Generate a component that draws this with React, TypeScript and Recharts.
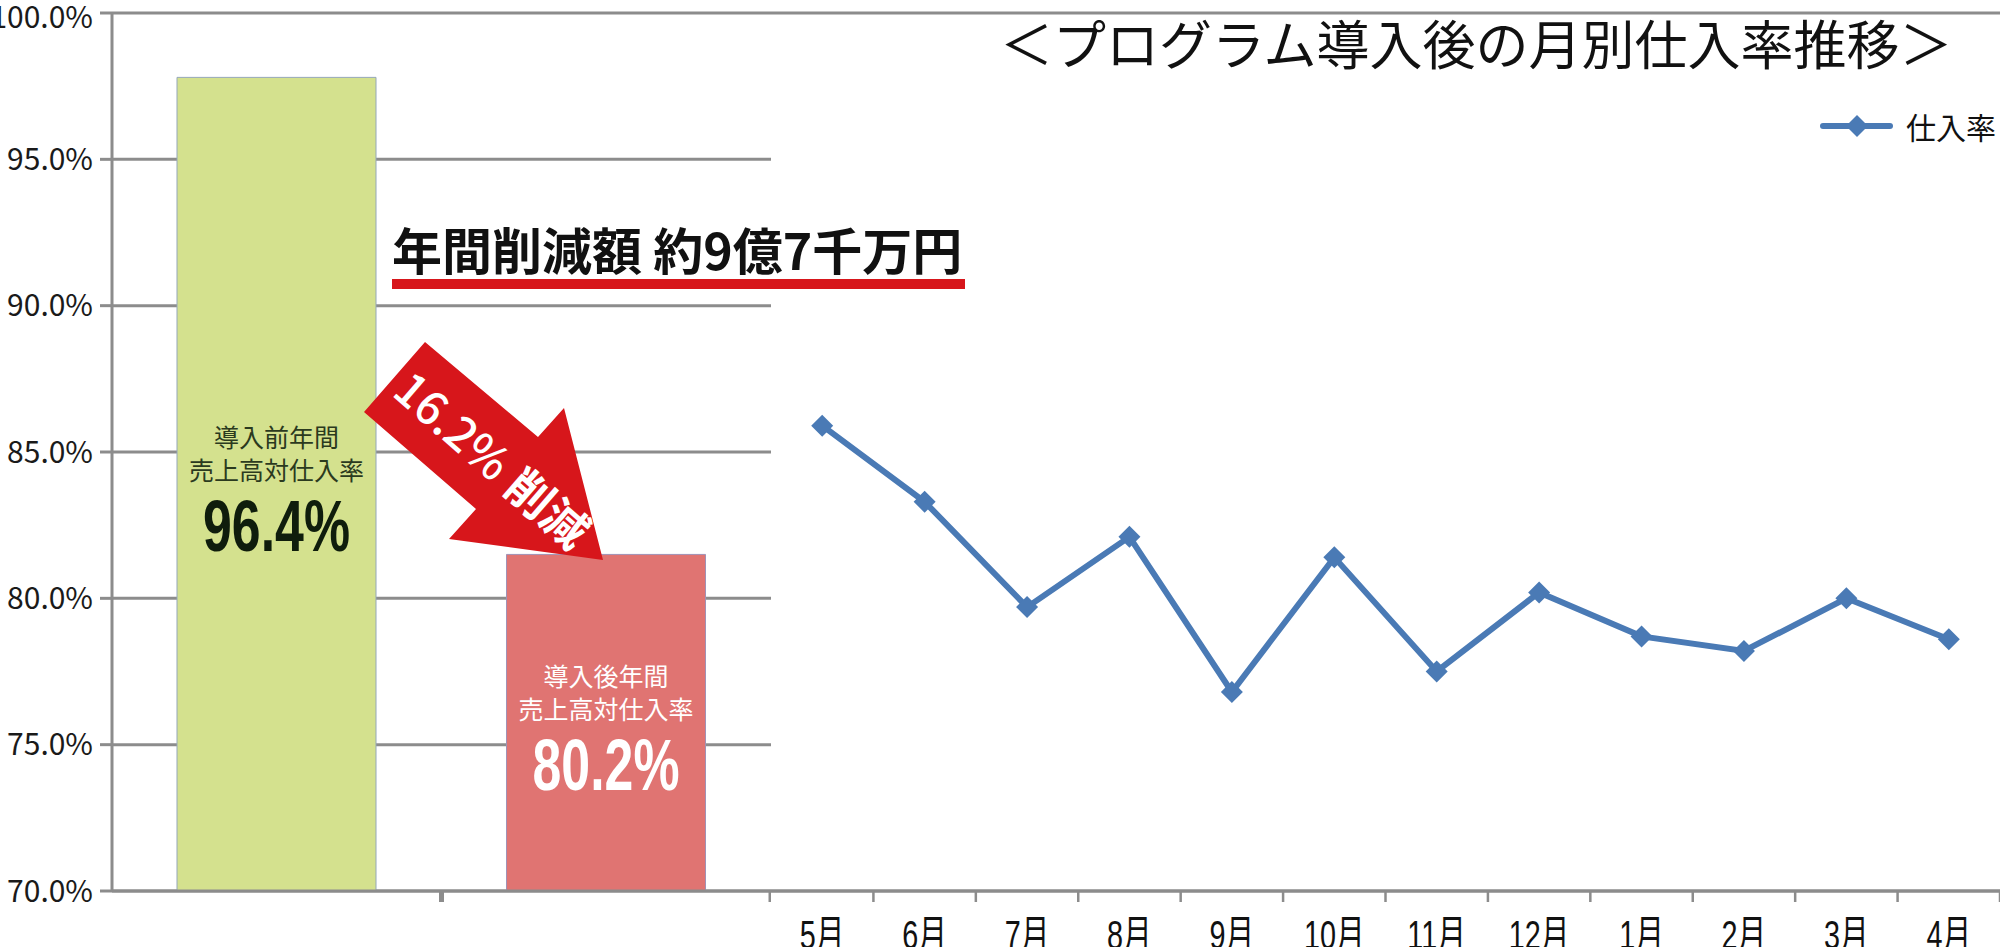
import { BarChart, Bar, Cell, LabelList, LineChart, Line, XAxis, YAxis, CartesianGrid } from 'recharts'

// annual purchase rate before / after the program
const periods = ['導入前', '導入後']
const periodValues = [97.8, 81.5]
const periodCaptions = ['導入前年間', '導入後年間']
const periodRates = ['96.4%', '80.2%']

// monthly purchase rate after the program
const months = ['5月', '6月', '7月', '8月', '9月', '10月', '11月', '12月', '1月', '2月', '3月', '4月']
const monthlyRates = [85.9, 83.3, 79.7, 82.1, 76.8, 81.4, 77.5, 80.2, 78.7, 78.2, 80.0, 78.6]

const yTicks = [70, 75, 80, 85, 90, 95, 100]

const title = '＜プログラム導入後の月別仕入率推移＞'
const headline = '年間削減額 約9億7千万円'
const arrowText = ['16.2%', '削減']
const seriesName = '仕入率'
const captionSub = '売上高対仕入率'

const FONT = "'Noto Sans CJK JP', 'Noto Sans', sans-serif"
const LATIN = "'Liberation Sans', 'Noto Sans CJK JP', sans-serif"

const W = 2000
const H = 947
const TOP = 13
const AXIS_H = 56
const Y_W = 112
const SPLIT = 771
const AXIS_Y = H - AXIS_H
const GRID = '#8c8c8c'
const LINE_BLUE = '#4a7ab5'
const RED = '#d7161b'

const barFills = ['#d4e18e', '#e07472']
const barStrokes = ['#94a7b9', '#a092b6']
const captionColors = ['#2b3a1e', '#ffffff']
const rateColors = ['#0f1d0c', '#ffffff']

const barRows = periods.map((name, i) => ({ name, value: periodValues[i] }))
const monthRows = months.map((month, i) => ({ month, rate: monthlyRates[i] }))

const bandA = (SPLIT - Y_W) / periods.length
const bandB = (W - SPLIT) / months.length

function BarCaption(props: any) {
  const { x, y, width, height, index } = props
  const cx = x + width / 2
  const mid = y + height / 2
  const color = captionColors[index]
  return (
    <g>
      <text x={cx} y={mid - 48} textAnchor="middle" dominantBaseline="central" fontSize={25} fill={color} fontFamily={FONT}>
        {periodCaptions[index]}
      </text>
      <text x={cx} y={mid - 15} textAnchor="middle" dominantBaseline="central" fontSize={25} fill={color} fontFamily={FONT}>
        {captionSub}
      </text>
      <text
        transform={`translate(${cx},${mid + 42}) scale(0.72,1)`}
        textAnchor="middle"
        dominantBaseline="central"
        fontSize={72}
        fontWeight="bold"
        fill={rateColors[index]}
        fontFamily={LATIN}
      >
        {periodRates[index]}
      </text>
    </g>
  )
}

// Excel style: tick marks on category boundaries
function PeriodTick(props: any) {
  const { x } = props
  const bx = x + bandA / 2
  return <line x1={bx} x2={bx} y1={AXIS_Y} y2={AXIS_Y + 11} stroke={GRID} strokeWidth={5} />
}

function MonthTick(props: any) {
  const { x, payload } = props
  const bx = x + bandB / 2
  return (
    <g>
      <line x1={bx} x2={bx} y1={AXIS_Y} y2={AXIS_Y + 11} stroke={GRID} strokeWidth={2.5} />
      <text transform={`translate(${x},${H + 2}) scale(0.72,1)`} textAnchor="middle" fontSize={40} fill="#111" fontFamily={LATIN}>
        {payload.value}
      </text>
    </g>
  )
}

function Diamond(props: any) {
  const { cx, cy, index } = props
  const r = 11
  return <path key={`dot-${index}`} d={`M${cx},${cy - r}L${cx + r},${cy}L${cx},${cy + r}L${cx - r},${cy}Z`} fill={LINE_BLUE} />
}

export default function App() {
  return (
    <div style={{ position: 'relative', width: W, height: H, overflow: 'hidden', background: '#fff' }}>
      <style>{'body{margin:0}'}</style>

      <div style={{ position: 'absolute', left: 0, top: 0 }}>
        <BarChart width={SPLIT} height={H} data={barRows} margin={{ top: TOP, right: 0, bottom: 0, left: 0 }} barSize={199}>
          <CartesianGrid vertical={false} stroke={GRID} strokeWidth={3} />
          <XAxis dataKey="name" height={AXIS_H} interval={0} axisLine={{ stroke: GRID, strokeWidth: 3 }} tickLine={false} tick={<PeriodTick />} />
          <YAxis
            domain={[70, 100]}
            ticks={yTicks}
            width={Y_W}
            tickSize={12}
            tickMargin={7}
            tickFormatter={(v: number) => `${v.toFixed(1)}%`}
            axisLine={{ stroke: GRID, strokeWidth: 3 }}
            tickLine={{ stroke: GRID, strokeWidth: 3 }}
            tick={{ fontSize: 30, fill: '#1a1a1a', fontFamily: FONT }}
          />
          <Bar dataKey="value" isAnimationActive={false} strokeWidth={1}>
            {barRows.map((r, i) => (
              <Cell key={r.name} fill={barFills[i]} stroke={barStrokes[i]} />
            ))}
            <LabelList content={<BarCaption />} />
          </Bar>
        </BarChart>
      </div>

      <div style={{ position: 'absolute', left: SPLIT, top: 0 }}>
        <LineChart width={W - SPLIT} height={H} data={monthRows} margin={{ top: TOP, right: 0, bottom: 0, left: 0 }}>
          <CartesianGrid vertical={false} stroke={GRID} strokeWidth={3} />
          <XAxis dataKey="month" scale="band" height={AXIS_H} interval={0} axisLine={{ stroke: GRID, strokeWidth: 3 }} tickLine={false} tick={<MonthTick />} />
          <YAxis domain={[70, 100]} ticks={yTicks} width={0} tick={false} axisLine={false} tickLine={false} />
          <Line dataKey="rate" name={seriesName} stroke={LINE_BLUE} strokeWidth={6} dot={<Diamond />} activeDot={false} isAnimationActive={false} />
        </LineChart>
      </div>

      <svg width={W} height={H} style={{ position: 'absolute', left: 0, top: 0, pointerEvents: 'none' }}>
        <text x={1000} y={65} fontSize={53} fill="#111" fontFamily={FONT}>
          {title}
        </text>

        <text x={392} y={270} fontSize={50} fontWeight="bold" fill="#111" fontFamily={FONT}>
          {headline}
        </text>
        <rect x={392} y={279} width={573} height={10} fill={RED} />

        <polygon points="425,342 538,437 564,408 603,560 449,539 476,509 364,412" fill={RED} />
        <text
          transform="translate(494,458) rotate(41)"
          textAnchor="middle"
          dominantBaseline="central"
          fill="#fff"
          fontFamily={FONT}
          fontSize={46}
        >
          <tspan fontWeight={500}>{arrowText[0]}</tspan>
          <tspan dx={12} fontWeight="bold">{arrowText[1]}</tspan>
        </text>

        <line x1={1823} x2={1890} y1={126} y2={126} stroke={LINE_BLUE} strokeWidth={6} strokeLinecap="round" />
        <path d="M1857,115L1868,126L1857,137L1846,126Z" fill={LINE_BLUE} />
        <text x={1906} y={126} dominantBaseline="central" fontSize={30} fill="#111" fontFamily={FONT}>
          {seriesName}
        </text>
      </svg>
    </div>
  )
}
